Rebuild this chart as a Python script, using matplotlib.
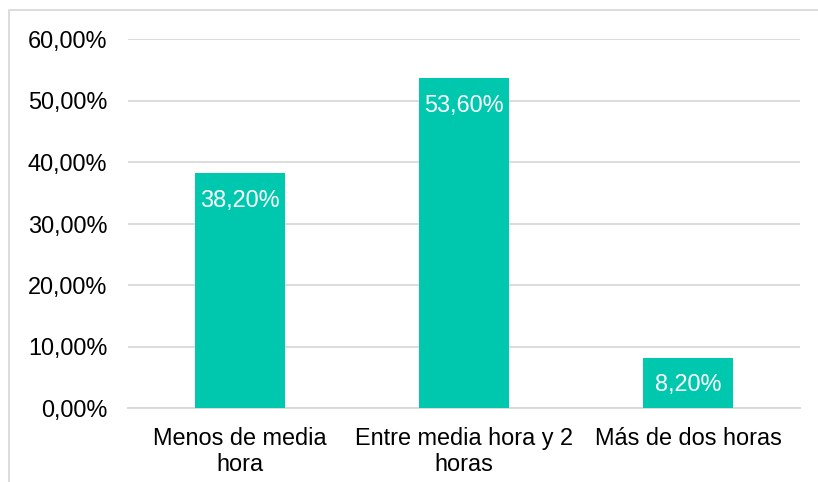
import matplotlib
matplotlib.use("Agg")
import matplotlib.pyplot as plt
from matplotlib.lines import Line2D
from matplotlib.ticker import FuncFormatter

categories = ["Menos de media\nhora", "Entre media hora y 2\nhoras", "Más de dos horas"]
values = [0.382, 0.536, 0.082]
labels = ["38,20%", "53,60%", "8,20%"]
yticks = [0.0, 0.1, 0.2, 0.3, 0.4, 0.5, 0.6]

W, H = 818, 482
fig = plt.figure(figsize=(W / 100, H / 100), dpi=100)
plt.rcParams['font.family'] = ['Liberation Sans', 'DejaVu Sans']
FS = 16.9
bar_color = '#00C8AE'
grid_color = '#D9D9D9'

ax = fig.add_axes([128 / W, 1 - 408 / H, (800 - 128) / W, (408 - 39) / H])
x = list(range(len(categories)))
bars = ax.bar(x, values, width=0.40, color=bar_color, zorder=3)
ax.set_xlim(-0.5, 2.5)
ax.set_ylim(0, 0.6)
ax.set_yticks(yticks)
ax.yaxis.set_major_formatter(FuncFormatter(lambda v, p: f"{v*100:.2f}%".replace('.', ',')))
ax.set_xticks(x)
ax.set_xticklabels(categories, fontsize=FS, linespacing=1.12)
ax.tick_params(axis='y', length=0, pad=15, labelsize=FS)
ax.tick_params(axis='x', length=0, pad=14, labelsize=FS)
ax.grid(axis='y', color=grid_color, linewidth=1.3, zorder=0)
for s in ['top', 'right', 'left']:
    ax.spines[s].set_visible(False)
ax.spines['bottom'].set_color(grid_color)
ax.spines['bottom'].set_linewidth(1.3)

for xi, v, lab in zip(x, values, labels):
    ax.annotate(lab, (xi, v), xytext=(0, -27 * 72 / 100), textcoords='offset points',
                ha='center', va='center', color='white', fontsize=FS, zorder=4)

# chart area border (cropped on right and bottom)
fig.add_artist(Line2D([9 / W, 9 / W, 1.01], [-0.01, 1 - 10 / H, 1 - 10 / H],
                      transform=fig.transFigure, color=grid_color, linewidth=1.3))

fig.savefig("out.png", dpi=100)
